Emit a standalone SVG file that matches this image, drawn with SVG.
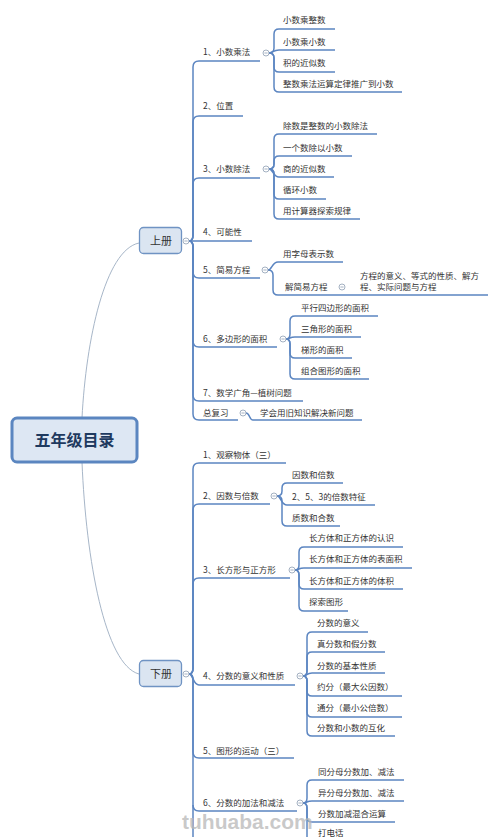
<svg xmlns="http://www.w3.org/2000/svg" width="500" height="837" viewBox="0 0 500 837">
<style>
.t{font-family:"Noto Sans CJK SC","Liberation Sans",sans-serif;font-size:8.5px;fill:#333}
.c{fill:none;stroke:#5b85c1;stroke-width:1.5}
.root{fill:none;stroke:#a7b6c8;stroke-width:1}
.col{fill:#fff;stroke:#8d9db2;stroke-width:0.8}
.colm{stroke:#8d9db2;stroke-width:0.8}
.sub{fill:#dbe5f1;stroke:#6f93c3;stroke-width:1.3}
.st{font-family:"Noto Sans CJK SC","Liberation Sans",sans-serif;font-size:11px;fill:#333;text-anchor:middle}
</style>
<defs>
<g id="collapse"><circle r="3" class="col"/><line x1="-1.6" y1="0" x2="1.6" y2="0" class="colm"/></g>
</defs>
<rect width="500" height="837" fill="#fff"/>
<g id="connectors">
<path class="root" d="M82,418 C86,340 105,250 139,243"/>
<path class="root" d="M82,462 C86,560 105,665 139,674"/>
<path class="c" d="M189,241 Q193,241 193,235 L193,67 Q193,61 199,61 L260,61"/>
<path class="c" d="M189,241 Q193,241 193,235 L193,122 Q193,116 199,116 L243,116"/>
<path class="c" d="M189,241 Q193,241 193,235 L193,184 Q193,178 199,178 L260,178"/>
<path class="c" d="M189,241 L252,241"/>
<path class="c" d="M189,241 Q193,241 193,247 L193,272 Q193,278 199,278 L260,278"/>
<path class="c" d="M189,241 Q193,241 193,247 L193,341 Q193,347 199,347 L277,347"/>
<path class="c" d="M189,241 Q193,241 193,247 L193,395 Q193,401 199,401 L303,401"/>
<path class="c" d="M189,241 Q193,241 193,247 L193,414 Q193,420 199,420 L238,420"/>
<path class="c" d="M189,674 Q193,674 193,668 L193,469 Q193,463 199,463 L286,463"/>
<path class="c" d="M189,674 Q193,674 193,668 L193,510 Q193,504 199,504 L270,504"/>
<path class="c" d="M189,674 Q193,674 193,668 L193,584 Q193,578 199,578 L290,578"/>
<path class="c" d="M189,674 C193,674 193,685 199,685 L295,685"/>
<path class="c" d="M189,674 Q193,674 193,680 L193,752 Q193,758 199,758 L294,758"/>
<path class="c" d="M189,674 Q193,674 193,680 L193,805 Q193,811 199,811 L297,811"/>
<path class="c" d="M193,805 L193,840"/>
<path class="c" d="M269,53 Q274,53 274,48 L274,34 Q274,29 279,29 L335,29"/>
<path class="c" d="M269,53 C273,53 273,50 279,50 L335,50"/>
<path class="c" d="M269,53 Q274,53 274,58 L274,67 Q274,72 279,72 L335,72"/>
<path class="c" d="M269,53 Q274,53 274,58 L274,87 Q274,92 279,92 L402,92"/>
<path class="c" d="M269,169 Q274,169 274,164 L274,139 Q274,134 279,134 L377,134"/>
<path class="c" d="M269,169 Q274,169 274,164 L274,161 Q274,156 279,156 L352,156"/>
<path class="c" d="M269,169 C273,169 273,177 279,177 L334,177"/>
<path class="c" d="M269,169 Q274,169 274,174 L274,194 Q274,199 279,199 L326,199"/>
<path class="c" d="M269,169 Q274,169 274,174 L274,214 Q274,219 279,219 L360,219"/>
<path class="c" d="M268,270 C272,270 272,262 278,262 L343,262"/>
<path class="c" d="M268,270 Q273,270 273,275 L273,290 Q273,295 278,295 L488,295"/>
<path class="c" d="M286,339 Q290,339 290,334 L290,321 Q290,316 295,316 L378,316"/>
<path class="c" d="M286,339 C289,339 290,337 295,337 L361,337"/>
<path class="c" d="M286,339 Q290,339 290,344 L290,353 Q290,358 295,358 L352,358"/>
<path class="c" d="M286,339 Q290,339 290,344 L290,374 Q290,379 295,379 L369,379"/>
<path class="c" d="M246,413 C250,413 249,420 253,420 L362,420"/>
<path class="c" d="M277,496 Q282,496 282,491 L282,488 Q282,483 287,483 L343,483"/>
<path class="c" d="M277,496 C281,496 281,505 287,505 L375,505"/>
<path class="c" d="M277,496 Q282,496 282,501 L282,521 Q282,526 287,526 L340,526"/>
<path class="c" d="M295,570 Q299,570 299,565 L299,552 Q299,547 304,547 L403,547"/>
<path class="c" d="M295,570 C298,570 299,568 304,568 L412,568"/>
<path class="c" d="M295,570 Q299,570 299,575 L299,584 Q299,589 304,589 L403,589"/>
<path class="c" d="M295,570 Q299,570 299,575 L299,606 Q299,611 304,611 L348,611"/>
<path class="c" d="M303,676 Q307,676 307,671 L307,637 Q307,632 312,632 L368,632"/>
<path class="c" d="M303,676 Q307,676 307,671 L307,657 Q307,652 312,652 L385,652"/>
<path class="c" d="M303,676 C306,676 307,673 312,673 L385,673"/>
<path class="c" d="M303,676 Q307,676 307,681 L307,691 Q307,696 312,696 L402,696"/>
<path class="c" d="M303,676 Q307,676 307,681 L307,712 Q307,717 312,717 L402,717"/>
<path class="c" d="M303,676 Q307,676 307,681 L307,731 Q307,736 312,736 L395,736"/>
<path class="c" d="M303,803 Q307,803 307,798 L307,785 Q307,780 312,780 L404,780"/>
<path class="c" d="M303,803 C306,803 307,801 312,801 L404,801"/>
<path class="c" d="M303,803 Q307,803 307,808 L307,817 Q307,822 312,822 L395,822"/>
<path class="c" d="M303,803 Q307,803 307,808 L307,838 Q307,843 312,843 L360,843"/>
</g>
<g id="root">
<rect x="12" y="418" width="125" height="44" rx="5" fill="#dde7f3" stroke="#5b86c0" stroke-width="3"/>
<text x="74.5" y="446" font-family="'Noto Sans CJK SC','Liberation Sans',sans-serif" font-size="16" font-weight="bold" fill="#1f3a5f" text-anchor="middle">五年级目录</text>
</g>
<g id="vol1"><rect x="139.5" y="227.5" width="42" height="26" rx="4" class="sub"/><text x="161" y="245" class="st">上册</text><use href="#collapse" x="186" y="241"/></g>
<g id="vol2"><rect x="139.5" y="660.5" width="42" height="26" rx="4" class="sub"/><text x="161" y="678" class="st">下册</text><use href="#collapse" x="186" y="674"/></g>
<g id="u1"><text x="203" y="55" class="t">1、小数乘法</text><use href="#collapse" x="266" y="53"/></g>
<g id="u1a"><text x="283" y="23" class="t">小数乘整数</text></g>
<g id="u1b"><text x="283" y="45" class="t">小数乘小数</text></g>
<g id="u1c"><text x="283" y="66" class="t">积的近似数</text></g>
<g id="u1d"><text x="283" y="87" class="t">整数乘法运算定律推广到小数</text></g>
<g id="u2"><text x="203" y="109" class="t">2、位置</text></g>
<g id="u3"><text x="203" y="172" class="t">3、小数除法</text><use href="#collapse" x="266" y="169"/></g>
<g id="u3a"><text x="283" y="129" class="t">除数是整数的小数除法</text></g>
<g id="u3b"><text x="283" y="151" class="t">一个数除以小数</text></g>
<g id="u3c"><text x="283" y="172" class="t">商的近似数</text></g>
<g id="u3d"><text x="283" y="193" class="t">循环小数</text></g>
<g id="u3e"><text x="283" y="214" class="t">用计算器探索规律</text></g>
<g id="u4"><text x="203" y="235" class="t">4、可能性</text></g>
<g id="u5"><text x="203" y="273" class="t">5、简易方程</text><use href="#collapse" x="265" y="270"/></g>
<g id="u5a"><text x="283" y="257" class="t">用字母表示数</text></g>
<g id="u5b"><text x="285" y="290" class="t">解简易方程</text><use href="#collapse" x="342" y="287"/></g>
<g id="u5b1"><text x="360" y="279" class="t">方程的意义、等式的性质、解方</text><text x="360" y="290" class="t">程、实际问题与方程</text></g>
<g id="u6"><text x="203" y="342" class="t">6、多边形的面积</text><use href="#collapse" x="283" y="339"/></g>
<g id="u6a"><text x="301" y="311" class="t">平行四边形的面积</text></g>
<g id="u6b"><text x="301" y="332" class="t">三角形的面积</text></g>
<g id="u6c"><text x="301" y="353" class="t">梯形的面积</text></g>
<g id="u6d"><text x="301" y="374" class="t">组合图形的面积</text></g>
<g id="u7"><text x="203" y="396" class="t">7、数学广角—植树问题</text></g>
<g id="u8"><text x="203" y="416" class="t">总复习</text><use href="#collapse" x="243" y="413"/></g>
<g id="u8a"><text x="260" y="416" class="t">学会用旧知识解决新问题</text></g>
<g id="d1"><text x="203" y="458" class="t">1、观察物体（三）</text></g>
<g id="d2"><text x="203" y="499" class="t">2、因数与倍数</text><use href="#collapse" x="274" y="496"/></g>
<g id="d2a"><text x="292" y="478" class="t">因数和倍数</text></g>
<g id="d2b"><text x="292" y="500" class="t">2、5、3的倍数特征</text></g>
<g id="d2c"><text x="292" y="521" class="t">质数和合数</text></g>
<g id="d3"><text x="203" y="573" class="t">3、长方形与正方形</text><use href="#collapse" x="292" y="570"/></g>
<g id="d3a"><text x="309" y="541" class="t">长方体和正方体的认识</text></g>
<g id="d3b"><text x="309" y="562" class="t">长方体和正方体的表面积</text></g>
<g id="d3c"><text x="309" y="584" class="t">长方体和正方体的体积</text></g>
<g id="d3d"><text x="309" y="605" class="t">探索图形</text></g>
<g id="d4"><text x="203" y="679" class="t">4、分数的意义和性质</text><use href="#collapse" x="300" y="676"/></g>
<g id="d4a"><text x="317" y="626" class="t">分数的意义</text></g>
<g id="d4b"><text x="317" y="647" class="t">真分数和假分数</text></g>
<g id="d4c"><text x="317" y="669" class="t">分数的基本性质</text></g>
<g id="d4d"><text x="317" y="690" class="t">约分（最大公因数）</text></g>
<g id="d4e"><text x="317" y="711" class="t">通分（最小公倍数）</text></g>
<g id="d4f"><text x="317" y="731" class="t">分数和小数的互化</text></g>
<g id="d5"><text x="203" y="754" class="t">5、图形的运动（三）</text></g>
<g id="d6"><text x="203" y="806" class="t">6、分数的加法和减法</text><use href="#collapse" x="300" y="803"/></g>
<g id="d6a"><text x="318" y="775" class="t">同分母分数加、减法</text></g>
<g id="d6b"><text x="318" y="796" class="t">异分母分数加、减法</text></g>
<g id="d6c"><text x="318" y="817" class="t">分数加减混合运算</text></g>
<g id="d6d"><text x="318" y="836" class="t">打电话</text></g>
<text x="182" y="829" font-family="'Liberation Sans',sans-serif" font-size="21" font-weight="bold" fill="#b8b8b8" fill-opacity="0.75">tuhuaba.com</text>
</svg>
